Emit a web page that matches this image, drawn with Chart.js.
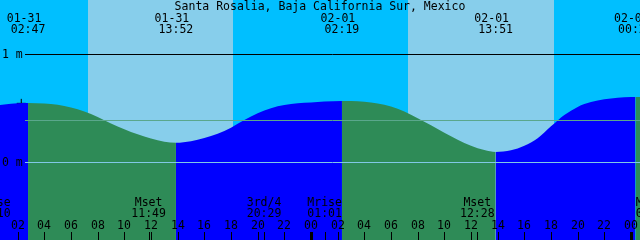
<!DOCTYPE html>
<html>
<head>
<meta charset="utf-8">
<title>Santa Rosalia tides</title>
<script src="https://cdn.jsdelivr.net/npm/chart.js@4.4.0/dist/chart.umd.min.js"></script>
<style>
  html, body { margin: 0; padding: 0; background: #00bfff; }
  canvas { display: block; }
</style>
</head>
<body>
<canvas id="tide" width="640" height="240"></canvas>
<script>
// hours are counted from 01-31 00:00 local time, levels in metres
const title = 'Santa Rosalia, Baja California Sur, Mexico';

const levelHours = [0.5, 1, 2, 2.78, 4, 5, 6, 7, 8, 9, 10, 11, 12, 13, 13.87,
  15, 16, 17, 18, 19, 20, 21, 22, 23, 24, 25, 26.32,
  27, 28, 29, 30, 31, 32, 33, 34, 35, 36, 37, 37.85,
  39, 40, 41, 42, 43, 44, 45, 46, 47, 48, 48.33, 48.8];
const levelMeters = [0.526, 0.533, 0.543, 0.546, 0.541, 0.530, 0.505, 0.468, 0.417, 0.357, 0.304, 0.257, 0.218, 0.188, 0.179,
  0.193, 0.223, 0.262, 0.318, 0.388, 0.452, 0.498, 0.527, 0.544, 0.552, 0.560, 0.565,
  0.564, 0.557, 0.541, 0.513, 0.468, 0.406, 0.341, 0.270, 0.207, 0.150, 0.110, 0.093,
  0.108, 0.150, 0.220, 0.330, 0.435, 0.510, 0.555, 0.580, 0.594, 0.601, 0.602, 0.601];

// high / low water
const extremeHours = [2.78, 13.87, 26.32, 37.85, 48.33];
const extremeDates = ['01-31', '01-31', '02-01', '02-01', '02-02'];
const extremeTimes = ['02:47', '13:52', '02:19', '13:51', '00:20'];

const sunriseHours = [7.27, 31.27];
const sunsetHours = [18.15, 42.2];

const moonHours = [0.17, 11.82, 20.48, 25.02, 36.47, 49.65];
const moonNames = ['Mrise', 'Mset', '3rd/4', 'Mrise', 'Mset', 'Mrise'];
const moonTimes = ['00:10', '11:49', '20:29', '01:01', '12:28', '01:39'];

const tickHours = [2, 4, 6, 8, 10, 12, 14, 16, 18, 20, 22, 24,
  26, 28, 30, 32, 34, 36, 38, 40, 42, 44, 46, 48];
const tickLabels = ['02', '04', '06', '08', '10', '12', '14', '16', '18', '20', '22', '00',
  '02', '04', '06', '08', '10', '12', '14', '16', '18', '20', '22', '00'];

const lineLevels = [1, 0.39, 0];
const lineLabels = ['1 m', '', '0 m'];
const lineColors = ['#000000', '#5aa78c', '#80c8e6'];

const markHours = [2.27];
const markLevels = [0.543];

const NIGHT = '#00bfff', DAY = '#87ceeb', FLOOD = '#0000ff', EBB = '#2e8b57';
const FONT = '11.5px "DejaVu Sans Mono", monospace';

const tideArt = {
  id: 'tideArt',
  beforeDatasetsDraw(chart) {
    const {ctx, chartArea: a, scales: {x}} = chart;
    ctx.save();
    ctx.fillStyle = NIGHT;
    ctx.fillRect(a.left, a.top, a.width, a.height);
    ctx.fillStyle = DAY;
    sunriseHours.forEach((h, i) => {
      const x0 = Math.round(x.getPixelForValue(h));
      const x1 = Math.round(x.getPixelForValue(sunsetHours[i]));
      ctx.fillRect(x0, a.top, x1 - x0, a.height);
    });
    ctx.restore();
  },
  afterDatasetsDraw(chart) {
    const {ctx, chartArea: a, scales: {x, y}} = chart;
    ctx.save();
    ctx.font = FONT;
    ctx.lineWidth = 1;

    // level lines + labels
    lineLevels.forEach((v, i) => {
      const py = Math.round(y.getPixelForValue(v)) + 0.5;
      ctx.strokeStyle = lineColors[i];
      ctx.beginPath();
      ctx.moveTo(25, py);
      ctx.lineTo(a.right, py);
      ctx.stroke();
      if (lineLabels[i]) {
        ctx.fillStyle = '#000';
        ctx.textAlign = 'left';
        ctx.fillText(lineLabels[i], 2, py + 3.5);
      }
    });

    ctx.fillStyle = '#000';
    ctx.textAlign = 'center';
    ctx.fillText(title, 320, 10);

    // high / low labels along the top
    extremeHours.forEach((h, i) => {
      const px = x.getPixelForValue(h);
      ctx.fillText(extremeDates[i], px - 4, 22);
      ctx.fillText(extremeTimes[i], px, 33);
    });

    // moon events
    moonHours.forEach((h, i) => {
      const px = x.getPixelForValue(h);
      ctx.fillText(moonNames[i], px, 206);
      ctx.fillText(moonTimes[i], px, 217);
      ctx.fillRect(Math.round(px), 232, 1, 8);
    });

    // hour ticks
    tickHours.forEach((h, i) => {
      const px = Math.round(x.getPixelForValue(h));
      ctx.fillText(tickLabels[i], px, 229);
      if (h % 24 === 0) ctx.fillRect(px - 1, 232, 3, 8);
      else ctx.fillRect(px, 232, 1, 8);
    });
    ctx.restore();
  }
};

new Chart(document.getElementById('tide'), {
  type: 'line',
  data: {
    datasets: [{
      label: 'water',
      data: levelHours.map((h, i) => ({x: h, y: levelMeters[i]})),
      fill: 'start',
      borderWidth: 0,
      pointRadius: 0,
      cubicInterpolationMode: 'monotone',
      backgroundColor: EBB,
      segment: {
        backgroundColor: c => (c.p1.parsed.y >= c.p0.parsed.y ? FLOOD : EBB)
      }
    }, {
      label: 'mark',
      type: 'scatter',
      data: markHours.map((h, i) => ({x: h, y: markLevels[i]})),
      pointStyle: 'cross',
      pointRadius: 4.5,
      borderColor: '#000',
      borderWidth: 1
    }]
  },
  options: {
    responsive: false,
    animation: false,
    devicePixelRatio: 1,
    layout: { padding: 0, autoPadding: false },
    plugins: { legend: { display: false }, tooltip: { enabled: false } },
    scales: {
      x: { type: 'linear', min: 0.675, max: 48.675, display: false },
      y: { min: -0.7222, max: 1.5, display: false }
    }
  },
  plugins: [tideArt]
});
</script>
</body>
</html>
